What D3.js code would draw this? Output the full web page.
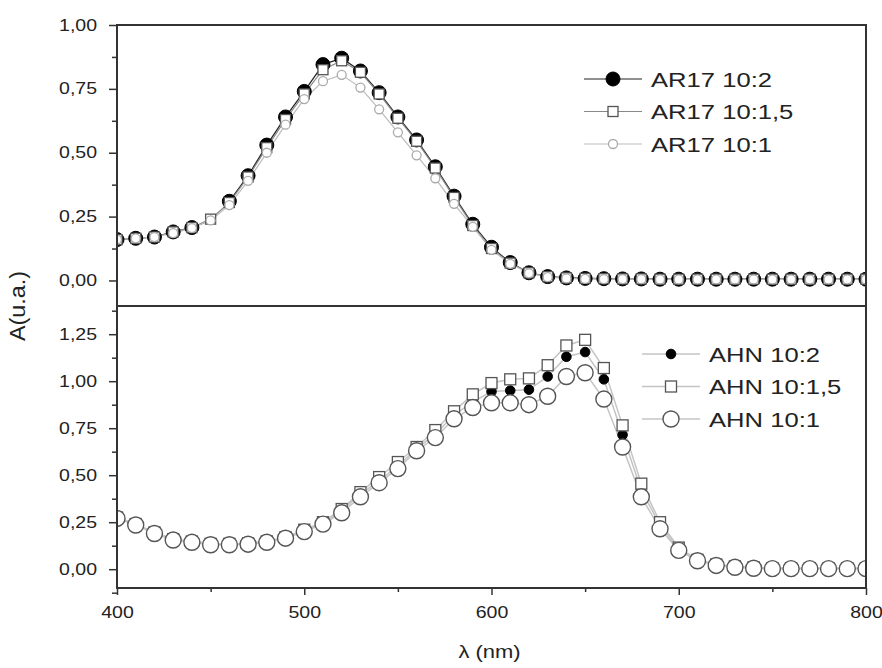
<!DOCTYPE html>
<html>
<head>
<meta charset="utf-8">
<script src="https://cdn.jsdelivr.net/npm/d3@7"></script>
<style>
  body { margin: 0; background: #fff; }
  text { font-family: Arial, "Liberation Sans", sans-serif; fill: #222; }
</style>
</head>
<body>
<div id="chart"></div>
<script>
// Wavelengths (nm), same for every series
const wavelength = [400, 410, 420, 430, 440, 450, 460, 470, 480, 490, 500, 510, 520, 530, 540, 550, 560, 570, 580, 590,
    600, 610, 620, 630, 640, 650, 660, 670, 680, 690, 700, 710, 720, 730, 740, 750, 760, 770, 780, 790, 800];

// Top panel: AR17
const ar17_10_2 = [0.160, 0.165, 0.170, 0.190, 0.207, null, 0.310, 0.410, 0.530, 0.640, 0.740, 0.845, 0.870, 0.820, 0.735, 0.640, 0.550, 0.445, 0.330, 0.220,
    0.130, 0.070, 0.030, 0.015, 0.010, 0.008, 0.007, 0.006, 0.006, 0.005, 0.005, 0.005, 0.005, 0.005, 0.005, 0.005, 0.005, 0.005, 0.005, 0.005, 0.005];
const ar17_10_15 = [0.160, 0.165, 0.170, 0.190, 0.207, 0.240, 0.305, 0.405, 0.520, 0.630, 0.730, 0.825, 0.860, 0.815, 0.730, 0.635, 0.545, 0.440, 0.325, 0.215,
    0.125, 0.068, 0.030, 0.015, 0.010, 0.008, 0.007, 0.006, 0.006, 0.005, 0.005, 0.005, 0.005, 0.005, 0.005, 0.005, 0.005, 0.005, 0.005, 0.005, 0.005];
const ar17_10_1 = [0.160, 0.165, 0.170, 0.185, 0.205, 0.235, 0.295, 0.390, 0.500, 0.610, 0.710, 0.780, 0.805, 0.755, 0.670, 0.580, 0.490, 0.400, 0.300, 0.210,
    0.120, 0.065, 0.028, 0.013, 0.008, 0.006, 0.005, 0.005, 0.005, 0.004, 0.004, 0.004, 0.004, 0.004, 0.004, 0.004, 0.004, 0.004, 0.004, 0.004, 0.004];

// Bottom panel: AHN
const ahn_10_2 = [0.275, 0.240, 0.195, 0.160, 0.147, 0.135, 0.135, 0.137, 0.147, 0.168, 0.205, 0.245, 0.310, 0.400, 0.470, 0.550, 0.640, 0.720, 0.820, 0.890,
    0.945, 0.950, 0.955, 1.025, 1.130, 1.155, 1.010, 0.715, 0.420, 0.235, 0.105, 0.050, 0.025, 0.015, 0.010, 0.007, 0.005, 0.005, 0.005, 0.005, 0.005];
const ahn_10_15 = [0.275, 0.240, 0.195, 0.160, 0.147, 0.135, 0.135, 0.137, 0.148, 0.170, 0.210, 0.250, 0.320, 0.410, 0.490, 0.570, 0.650, 0.740, 0.840, 0.930,
    0.990, 1.010, 1.015, 1.085, 1.190, 1.220, 1.070, 0.765, 0.455, 0.250, 0.115, 0.050, 0.025, 0.015, 0.010, 0.005, 0.005, 0.005, 0.005, 0.005, 0.005];
const ahn_10_1 = [0.270, 0.235, 0.190, 0.155, 0.143, 0.130, 0.130, 0.133, 0.143, 0.165, 0.200, 0.240, 0.300, 0.385, 0.460, 0.535, 0.630, 0.700, 0.800, 0.860,
    0.885, 0.885, 0.875, 0.920, 1.025, 1.045, 0.905, 0.650, 0.385, 0.215, 0.100, 0.045, 0.020, 0.010, 0.005, 0.003, 0.003, 0.003, 0.003, 0.003, 0.003];

// Tick values
const xTicks = [400, 500, 600, 700, 800];
const xMinorTicks = [450, 550, 650, 750];
const topTicks = [0, 0.25, 0.5, 0.75, 1.0];
const topMinorTicks = [0.125, 0.375, 0.625, 0.875];
const bottomTicks = [0, 0.25, 0.5, 0.75, 1.0, 1.25];
const bottomMinorTicks = [-0.125, 0.125, 0.375, 0.625, 0.875, 1.125, 1.375];

const topLabels = ["AR17 10:2", "AR17 10:1,5", "AR17 10:1"];
const bottomLabels = ["AHN 10:2", "AHN 10:1,5", "AHN 10:1"];

// glyphs in the picture are stretched sideways
const stretch = 1.22;
const comma = d3.formatLocale({decimal: ",", thousands: ".", grouping: [3], currency: ["", ""]}).format(".2f");

const width = 882, height = 668;
const plotLeft = 117, plotRight = 866, plotTop = 25, plotMid = 306, plotBottom = 588;

const svg = d3.select("#chart").append("svg")
    .attr("width", width)
    .attr("height", height);

svg.append("defs").append("clipPath")
    .attr("id", "plotclip")
    .append("rect")
    .attr("x", plotLeft).attr("y", plotTop)
    .attr("width", plotRight - plotLeft).attr("height", plotBottom - plotTop);

const x = d3.scaleLinear().domain([400, 800]).range([plotLeft, plotRight]);
const yTop = d3.scaleLinear().domain([-0.1, 1.0]).range([plotMid, plotTop]);
const yBot = d3.scaleLinear().domain([-0.1, 1.4]).range([plotBottom, plotMid]);

// Function to draw the left axis of one panel
function drawYAxis(y, ticks, minor) {
    const g = svg.append("g")
        .attr("transform", `translate(${plotLeft},0)`)
        .call(d3.axisLeft(y).tickValues(ticks).tickFormat(comma).tickSize(8).tickSizeOuter(0).tickPadding(12));
    g.select(".domain").remove();
    g.selectAll("line").attr("stroke", "#333").attr("stroke-width", 1.5);
    g.selectAll("text")
        .attr("x", -20 / stretch)
        .attr("transform", `scale(${stretch},1)`)
        .style("font-size", "16px");

    const m = svg.append("g")
        .attr("transform", `translate(${plotLeft},0)`)
        .call(d3.axisLeft(y).tickValues(minor).tickFormat("").tickSize(5).tickSizeOuter(0));
    m.select(".domain").remove();
    m.selectAll("line").attr("stroke", "#333").attr("stroke-width", 1.5);
}

drawYAxis(yTop, topTicks, topMinorTicks);
drawYAxis(yBot, bottomTicks, bottomMinorTicks);

// Bottom x axis
const xa = svg.append("g")
    .attr("transform", `translate(0,${plotBottom})`)
    .call(d3.axisBottom(x).tickValues(xTicks).tickSize(7).tickSizeOuter(0).tickPadding(12));
xa.select(".domain").remove();
xa.selectAll("line").attr("stroke", "#333").attr("stroke-width", 1.5);
xa.selectAll("text")
    .attr("transform", `scale(${stretch},1)`)
    .style("font-size", "16px");

const xm = svg.append("g")
    .attr("transform", `translate(0,${plotBottom})`)
    .call(d3.axisBottom(x).tickValues(xMinorTicks).tickFormat("").tickSize(4).tickSizeOuter(0));
xm.select(".domain").remove();
xm.selectAll("line").attr("stroke", "#333").attr("stroke-width", 1.5);

// Function to draw a series line
function drawLine(values, y, color, w) {
    const pts = wavelength.map((d, i) => [d, values[i]]);
    const line = d3.line()
        .defined(d => d[1] !== null)
        .x(d => x(d[0]))
        .y(d => y(d[1]));
    svg.append("path")
        .attr("clip-path", "url(#plotclip)")
        .datum(pts)
        .attr("d", line)
        .attr("fill", "none")
        .attr("stroke", color)
        .attr("stroke-width", w);
}

function drawMarker(g, shape, cx, cy) {
    if (shape.type === "circle") {
        g.append("circle")
            .attr("cx", cx).attr("cy", cy).attr("r", shape.r)
            .attr("fill", shape.fill).attr("stroke", shape.stroke).attr("stroke-width", shape.sw);
    } else {
        g.append("rect")
            .attr("x", cx - shape.s / 2).attr("y", cy - shape.s / 2)
            .attr("width", shape.s).attr("height", shape.s)
            .attr("fill", shape.fill).attr("stroke", shape.stroke).attr("stroke-width", shape.sw);
    }
}

function drawMarkers(values, y, shape) {
    const g = svg.append("g").attr("clip-path", "url(#plotclip)");
    wavelength.forEach((d, i) => {
        if (values[i] === null) return;
        drawMarker(g, shape, x(d), y(values[i]));
    });
}

// Marker styles
const topShapes = [
    {type: "circle", r: 7, fill: "#000", stroke: "#000", sw: 1},
    {type: "rect", s: 10, fill: "#fff", stroke: "#555", sw: 1.3},
    {type: "circle", r: 4.5, fill: "#fff", stroke: "#aaa", sw: 1.3}
];
const topLineColors = ["#222", "#888", "#bbb"];
const botShapes = [
    {type: "circle", r: 4.8, fill: "#000", stroke: "#000", sw: 1},
    {type: "rect", s: 11, fill: "#fff", stroke: "#555", sw: 1.3},
    {type: "circle", r: 8, fill: "#fff", stroke: "#555", sw: 1.4}
];
const botLineColors = ["#c4c4c4", "#c4c4c4", "#c4c4c4"];

const topSeries = [ar17_10_2, ar17_10_15, ar17_10_1];
const botSeries = [ahn_10_2, ahn_10_15, ahn_10_1];

topSeries.forEach((s, i) => drawLine(s, yTop, topLineColors[i], 1.2));
topSeries.forEach((s, i) => drawMarkers(s, yTop, topShapes[i]));
botSeries.forEach((s, i) => drawLine(s, yBot, botLineColors[i], 1.5));
botSeries.forEach((s, i) => drawMarkers(s, yBot, botShapes[i]));

// Panel frames
svg.append("rect")
    .attr("x", plotLeft).attr("y", plotTop)
    .attr("width", plotRight - plotLeft).attr("height", plotBottom - plotTop)
    .attr("fill", "none").attr("stroke", "#333").attr("stroke-width", 2);
svg.append("line")
    .attr("x1", plotLeft).attr("x2", plotRight)
    .attr("y1", plotMid).attr("y2", plotMid)
    .attr("stroke", "#333").attr("stroke-width", 2);

// Legends
function drawLegend(labels, shapes, colors, x0, y0, step, lineW) {
    labels.forEach((label, i) => {
        const yy = y0 + i * step;
        svg.append("line")
            .attr("x1", x0).attr("x2", x0 + 58)
            .attr("y1", yy).attr("y2", yy)
            .attr("stroke", colors[i]).attr("stroke-width", lineW);
        const g = svg.append("g");
        drawMarker(g, shapes[i], x0 + 29, yy);
        svg.append("text")
            .attr("transform", `translate(${x0 + 67},${yy + 7.5}) scale(${stretch},1)`)
            .style("font-size", "21px")
            .text(label);
    });
}

drawLegend(topLabels, topShapes, topLineColors, 584, 79, 32.5, 1.2);
drawLegend(bottomLabels, botShapes, botLineColors, 642, 354, 32.5, 1.5);

// Axis titles
svg.append("text")
    .attr("transform", `translate(${(plotLeft + plotRight) / 2 - 2},${658}) scale(${stretch},1)`)
    .attr("text-anchor", "middle")
    .style("font-size", "18px")
    .text("λ (nm)");

svg.append("text")
    .attr("transform", `translate(25,${plotMid}) rotate(-90) scale(1.3,${stretch})`)
    .attr("text-anchor", "middle")
    .style("font-size", "18px")
    .text("A(u.a.)");
</script>
</body>
</html>
